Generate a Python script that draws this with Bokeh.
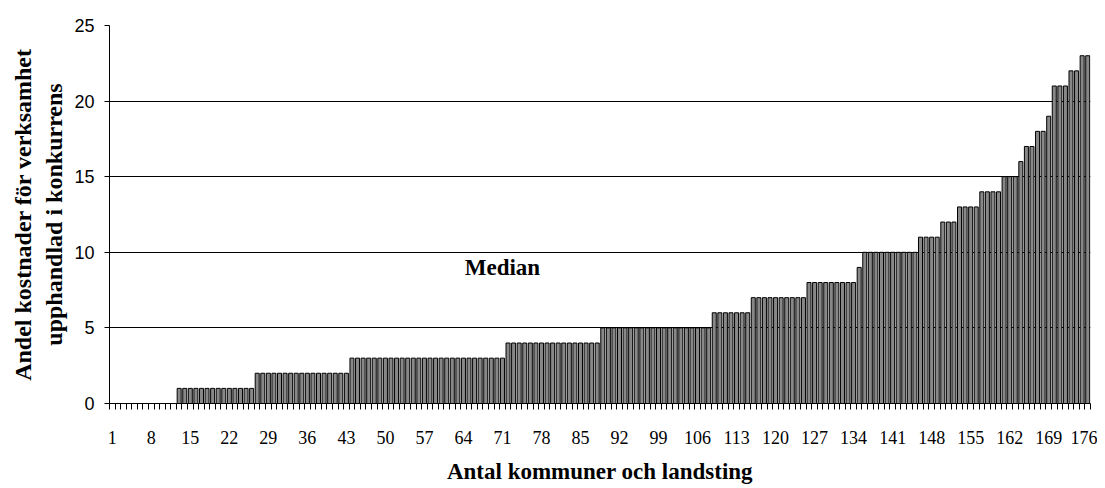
from bokeh.plotting import figure
from bokeh.models import Range1d, FixedTicker, Label
from bokeh.embed import file_html
from bokeh.resources import INLINE

# ---- data ----
value_levels = [0, 1, 2, 3, 4, 5, 6, 7, 8, 9, 10, 11, 12, 13, 14, 15, 16, 17, 18, 19, 21, 22, 23]
level_counts = [12, 14, 17, 28, 17, 20, 7, 10, 9, 1, 10, 4, 3, 4, 4, 3, 1, 2, 2, 1, 3, 2, 2]
values = []
for v, c in zip(value_levels, level_counts):
    values += [v] * c
categories = list(range(1, len(values) + 1))
x_tick_labels = list(range(1, 177, 7))
y_ticks = [0, 5, 10, 15, 20, 25]
median_text = "Median"
median_pos = (71, 9)

serif = "Liberation Serif"
sans = "Liberation Sans"

p = figure(width=1097, height=486, output_backend="svg", toolbar_location=None,
           x_range=Range1d(0.5, len(values) + 0.5), y_range=Range1d(0, 25),
           min_border_left=109, min_border_right=7, min_border_top=25, min_border_bottom=82)
p.outline_line_color = None
p.background_fill_color = "white"
p.border_fill_color = "white"

p.vbar(x=categories, top=values, width=0.72, fill_color="#888888",
       line_color="black", line_width=1)

# x axis
xa = p.xaxis[0]
xa.ticker = FixedTicker(ticks=x_tick_labels,
                        minor_ticks=[c - 0.5 for c in categories] + [len(values) + 0.5])
xa.major_tick_out = 0
xa.major_tick_in = 0
xa.minor_tick_out = 6
xa.minor_tick_in = 0
xa.minor_tick_line_color = "black"
xa.axis_line_color = "black"
xa.major_label_text_font = serif
xa.major_label_text_font_size = "18px"
xa.major_label_text_color = "black"
xa.major_label_standoff = 21
xa.axis_label = "Antal kommuner och landsting"
xa.axis_label_text_font = serif
xa.axis_label_text_font_style = "bold"
xa.axis_label_text_font_size = "23px"
xa.axis_label_text_color = "black"
xa.axis_label_standoff = 12

# y axis
ya = p.yaxis[0]
ya.ticker = FixedTicker(ticks=y_ticks)
ya.major_tick_out = 5
ya.major_tick_in = 0
ya.minor_tick_out = 0
ya.minor_tick_in = 0
ya.axis_line_color = "black"
ya.major_tick_line_color = "black"
ya.major_label_text_font = sans
ya.major_label_text_font_size = "18px"
ya.major_label_text_color = "black"
ya.major_label_standoff = 10
ya.axis_label = "Andel kostnader för verksamhet\nupphandlad i konkurrens"
ya.axis_label_text_font = serif
ya.axis_label_text_font_style = "bold"
ya.axis_label_text_font_size = "24px"
ya.axis_label_text_color = "black"
ya.axis_label_standoff = 4

p.xgrid.grid_line_color = None
p.ygrid.grid_line_color = "black"
p.ygrid.grid_line_width = 1

p.add_layout(Label(x=median_pos[0], y=median_pos[1], text=median_text,
                   text_font=serif, text_font_style="bold", text_font_size="23px",
                   text_align="center", text_baseline="middle", text_color="black"))

open("out.html", "w").write(file_html(p, INLINE))
